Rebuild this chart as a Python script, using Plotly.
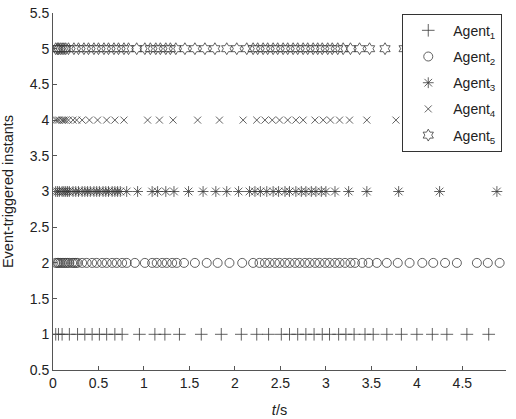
import plotly.graph_objects as go

# event-triggered instants (s), one list per agent
agent1_t = [0.03, 0.06, 0.10, 0.18, 0.27, 0.35, 0.43, 0.51, 0.59, 0.68, 0.76, 0.95, 1.12, 1.23,
            1.39, 1.63, 1.85, 2.07, 2.24, 2.37, 2.51, 2.60, 2.69, 2.78, 2.87, 2.96, 3.04, 3.14,
            3.22, 3.31, 3.43, 3.52, 3.67, 3.83, 4.00, 4.17, 4.33, 4.55, 4.79]
agent2_t = [0.03, 0.05, 0.06, 0.08, 0.10, 0.12, 0.14, 0.16, 0.18, 0.21, 0.23, 0.25, 0.27, 0.32,
            0.37, 0.43, 0.48, 0.54, 0.59, 0.65, 0.70, 0.76, 0.81, 0.90, 1.01, 1.09, 1.14, 1.20,
            1.25, 1.31, 1.36, 1.44, 1.56, 1.69, 1.81, 1.94, 2.08, 2.20, 2.27, 2.33, 2.38, 2.44,
            2.49, 2.55, 2.60, 2.66, 2.71, 2.77, 2.82, 2.88, 2.93, 2.99, 3.04, 3.10, 3.15, 3.21,
            3.27, 3.32, 3.40, 3.47, 3.56, 3.67, 3.79, 3.92, 4.06, 4.18, 4.31, 4.44, 4.66, 4.78, 4.91]
agent3_t = [0.03, 0.05, 0.07, 0.10, 0.12, 0.14, 0.16, 0.18, 0.22, 0.25, 0.28, 0.32, 0.35, 0.38,
            0.41, 0.45, 0.48, 0.51, 0.55, 0.58, 0.61, 0.65, 0.68, 0.71, 0.74, 0.81, 0.93, 1.09,
            1.15, 1.24, 1.33, 1.49, 1.65, 1.79, 1.91, 2.04, 2.16, 2.22, 2.28, 2.35, 2.42, 2.48,
            2.55, 2.60, 2.67, 2.73, 2.78, 2.84, 2.89, 2.95, 3.00, 3.10, 3.25, 3.45, 3.80, 4.25, 4.88]
agent4_t = [0.03, 0.05, 0.07, 0.10, 0.12, 0.14, 0.17, 0.22, 0.26, 0.32, 0.40, 0.49, 0.59, 0.68,
            0.78, 1.04, 1.17, 1.32, 1.59, 1.83, 2.09, 2.24, 2.33, 2.41, 2.49, 2.58, 2.67, 2.75,
            2.88, 2.97, 3.05, 3.15, 3.26, 3.45, 3.77]
agent5_t = [0.03, 0.05, 0.06, 0.08, 0.10, 0.12, 0.14, 0.17, 0.23, 0.28, 0.34, 0.39, 0.45, 0.50,
            0.56, 0.61, 0.67, 0.72, 0.78, 0.83, 0.92, 1.01, 1.07, 1.13, 1.18, 1.24, 1.29, 1.35,
            1.45, 1.56, 1.67, 1.78, 1.91, 2.02, 2.13, 2.20, 2.25, 2.31, 2.36, 2.42, 2.47, 2.53,
            2.58, 2.64, 2.69, 2.75, 2.80, 2.86, 2.91, 2.96, 3.02, 3.07, 3.13, 3.19, 3.27, 3.37,
            3.48, 3.65, 3.86]

agents = [1, 2, 3, 4, 5]
names = ['Agent<sub>%d</sub>' % k for k in agents]
times = [agent1_t, agent2_t, agent3_t, agent4_t, agent5_t]
symbols = ['cross-thin-open', 'circle-open', 'asterisk-open', 'x-thin-open', 'hexagram-open']
sizes = [9, 9, 9, 7, 9]

x_ticks = [0, 0.5, 1, 1.5, 2, 2.5, 3, 3.5, 4, 4.5]
y_ticks = [0.5, 1, 1.5, 2, 2.5, 3, 3.5, 4, 4.5, 5, 5.5]

fig = go.Figure()
for k, name, t, sym, sz in zip(agents, names, times, symbols, sizes):
    fig.add_trace(go.Scatter(
        x=t,
        y=[k] * len(t),
        mode='markers',
        name=name,
        legendgroup=name,
        marker={
            'symbol': sym,
            'size': sz,
            'color': '#3a3a3a',
            'line': {'width': 0.8, 'color': '#3a3a3a'},
        },
    ))

axis_common = dict(
    showline=True,
    linecolor='#555555',
    linewidth=1,
    ticks='inside',
    ticklen=4,
    tickcolor='#555555',
    showgrid=False,
    zeroline=False,
    automargin=False,
    tickfont={'size': 14, 'color': '#222222'},
)

fig.update_layout(
    width=516,
    height=419,
    margin={'l': 53, 'r': 10, 't': 13, 'b': 49},
    paper_bgcolor='white',
    plot_bgcolor='white',
    font={'family': 'Liberation Sans, Arial, sans-serif', 'color': '#222222'},
    xaxis=dict(
        axis_common,
        range=[0, 4.98],
        tickvals=x_ticks,
        ticktext=[('%g' % v) for v in x_ticks],
        title={'text': '<i>t</i>/s', 'font': {'size': 14.5}},
    ),
    yaxis=dict(
        axis_common,
        range=[0.5, 5.5],
        tickvals=y_ticks,
        ticktext=[('%g' % v) for v in y_ticks],
        title={'text': 'Event-triggered instants', 'font': {'size': 14.5}},
    ),
    legend={
        'x': 0.771,
        'y': 0.998,
        'xanchor': 'left',
        'yanchor': 'top',
        'bgcolor': 'white',
        'bordercolor': '#333333',
        'borderwidth': 1,
        'font': {'size': 14},
        'tracegroupgap': 5,
        'itemwidth': 40,
    },
)

# the page body has a default 8px margin, drop it so the figure sits at 0,0
fig.write_html("out.html", config={'displayModeBar': False},
               post_script="document.body.style.margin='0';")
